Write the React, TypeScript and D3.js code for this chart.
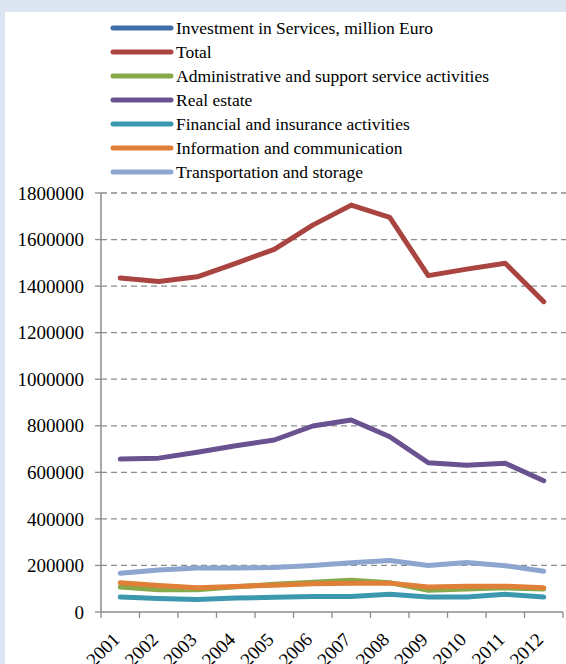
import React from "react";
import * as d3 from "d3";

const years = ["2001","2002","2003","2004","2005","2006","2007","2008","2009","2010","2011","2012"];
const yTicks = [0,200000,400000,600000,800000,1000000,1200000,1400000,1600000,1800000];

const seriesNames = [
  "Investment in Services, million Euro",
  "Total",
  "Administrative and support service activities",
  "Real estate",
  "Financial and insurance activities",
  "Information and communication",
  "Transportation and storage",
];
const seriesColors = ["#3F6DAA","#A94441","#88A94A","#6A5190","#3B98AF","#E07F38","#8DA6D0"];

const investment: number[] = [];
const total = [1435000,1420000,1440000,1498000,1558000,1662000,1748000,1695000,1445000,1473000,1498000,1333000];
const admin = [107000,96000,96000,108000,119000,128000,136000,126000,93000,99000,104000,99000];
const realEstate = [657000,661000,686000,714000,739000,799000,825000,753000,641000,630000,639000,564000];
const financial = [64000,58000,54000,60000,63000,67000,67000,76000,64000,64000,76000,64000];
const information = [126000,114000,104000,110000,115000,121000,124000,124000,107000,111000,111000,104000];
const transport = [166000,180000,189000,189000,191000,200000,212000,221000,200000,213000,199000,175000];

const seriesData = [investment,total,admin,realEstate,financial,information,transport];

const W = 566, H = 664;
const plotL = 101, plotR = 563, plotT = 193, plotB = 612;
const font = "'Liberation Serif', 'Times New Roman', serif";

export default function App() {
  const x = d3.scaleBand<string>().domain(years).range([plotL, plotR]).padding(0);
  const y = d3.scaleLinear().domain([0, 1800000]).range([plotB, plotT]);
  const cx = (yr: string) => (x(yr) as number) + x.bandwidth() / 2;
  const line = d3.line<number>().x((_, i) => cx(years[i])).y((d) => y(d));
  const boundaries = years.map((yr) => x(yr) as number).concat([plotR]);

  return (
    <svg width={W} height={H} style={{ display: "block", position: "absolute", left: 0, top: 0 }}>
      <rect x={0} y={0} width={W} height={H} fill="#DCE6F2" />
      <rect x={5} y={12} width={W} height={H} fill="#FFFFFF" />
      {/* legend */}
      {seriesNames.map((name, i) => {
        const ly = 28 + i * 24;
        return (
          <g key={name}>
            <line x1={113} x2={171} y1={ly} y2={ly} stroke={seriesColors[i]} strokeWidth={5} strokeLinecap="round" />
            <text x={176} y={ly} dy="0.35em" fontFamily={font} fontSize={17.5} fill="#000">{name}</text>
          </g>
        );
      })}
      {/* gridlines */}
      {yTicks.filter((t) => t > 0).map((t) => (
        <line key={t} x1={plotL} x2={W} y1={y(t)} y2={y(t)} stroke="#8C8C8C" strokeWidth={1.3} strokeDasharray="6,4" />
      ))}
      {/* y axis */}
      <line x1={plotL} x2={plotL} y1={plotT} y2={plotB} stroke="#8C8C8C" strokeWidth={1.5} />
      {yTicks.map((t) => (
        <g key={"yt" + t}>
          <line x1={plotL - 6} x2={plotL} y1={y(t)} y2={y(t)} stroke="#8C8C8C" strokeWidth={1.3} />
          <text x={84} y={y(t)} dy="0.35em" textAnchor="end" fontFamily={font} fontSize={19} fill="#000">{t}</text>
        </g>
      ))}
      {/* x axis */}
      <line x1={plotL} x2={plotR} y1={plotB} y2={plotB} stroke="#8C8C8C" strokeWidth={1.5} />
      {boundaries.map((b, i) => (
        <line key={"xt" + i} x1={b} x2={b} y1={plotB} y2={plotB + 6} stroke="#8C8C8C" strokeWidth={1.3} />
      ))}
      {years.map((yr) => (
        <text key={yr} transform={`translate(${cx(yr) - 4},${plotB + 24}) rotate(-45)`} textAnchor="end" dy="0.35em" fontFamily={font} fontSize={19} fill="#000">{yr}</text>
      ))}
      {/* lines */}
      {seriesData.map((d, i) => d.length > 0 ? (
        <path key={"s" + i} d={line(d) || ""} fill="none" stroke={seriesColors[i]} strokeWidth={5} strokeLinejoin="round" strokeLinecap="round" />
      ) : null)}
    </svg>
  );
}
